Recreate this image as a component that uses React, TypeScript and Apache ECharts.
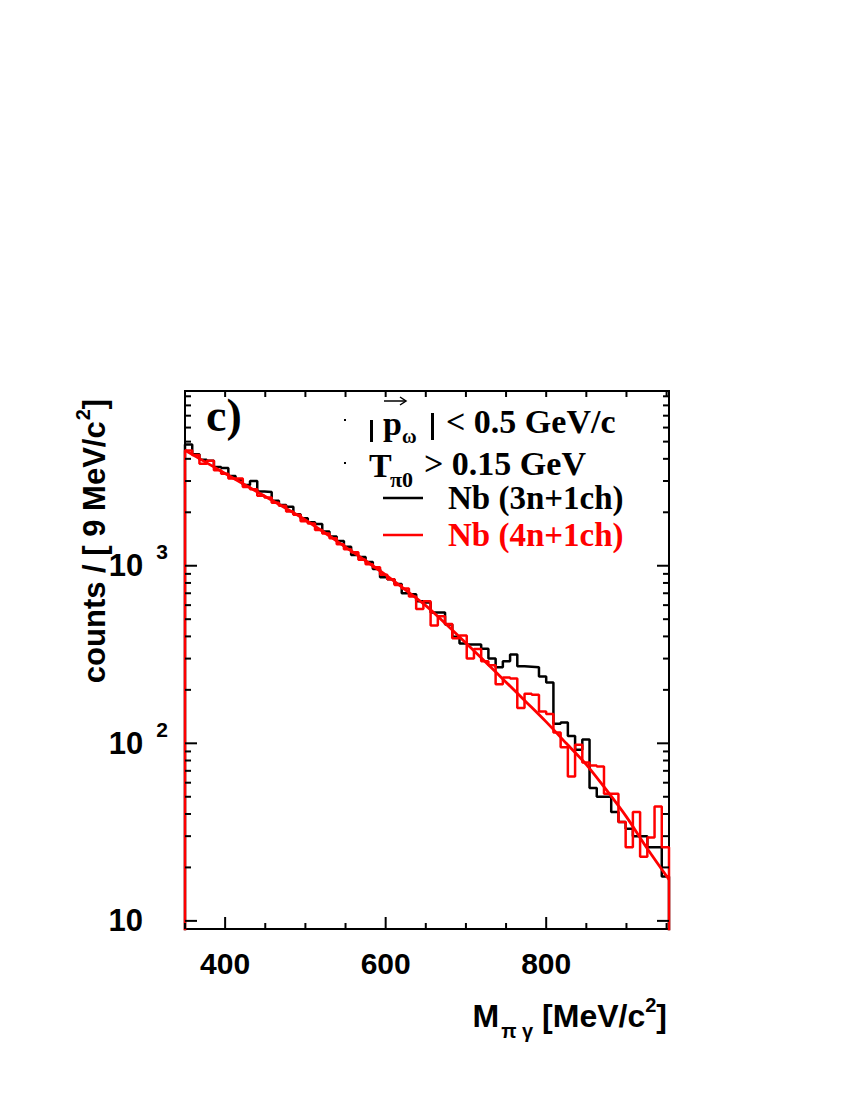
import React, { useEffect, useRef } from 'react';
import * as echarts from 'echarts';

// ---- data ----
const binStart = 350; // MeV/c^2, lower edge of first bin
const binWidth = 9; // MeV/c^2

// Nb (3n+1ch) histogram, counts per 9 MeV bin
const blackCounts = [
  4820, 4250, 3950, 3900, 3600, 3550, 3200, 3050, 2850, 3000,
  2620, 2600, 2320, 2200, 2150, 1950, 1850, 1760, 1720, 1560,
  1460, 1380, 1280, 1150, 1120, 1050, 960, 860, 840, 790,
  700, 690, 630, 621, 546, 546, 467, 398, 365, 360,
  360, 341, 300, 268, 290, 316, 272, 270, 268, 238,
  220, 129, 131, 110, 92, 105, 56, 50, 50, 41,
  36, 33, 30, 30, 26, 26, 17.8,
];

// Nb (4n+1ch) histogram
const redCounts = [
  4450, 4200, 3750, 3900, 3450, 3300, 3100, 3100, 2780, 2700,
  2480, 2420, 2260, 2180, 2020, 1940, 1780, 1730, 1590, 1520,
  1430, 1320, 1240, 1190, 1080, 1020, 980, 890, 840, 780,
  745, 670, 570, 630, 460, 520, 470, 390, 405, 300,
  340, 290, 275, 215, 235, 232, 158, 190, 188, 151,
  146, 115, 95, 65, 98, 78, 75, 74, 52, 52,
  36, 26, 41, 23, 29.5, 44, 26,
];

// smooth fit curve
const fitMass = [350, 375, 400, 425, 450, 475, 500, 525, 550, 575, 600, 625, 650, 675, 700, 725, 750, 775, 800, 825, 850, 875, 900, 925, 953];
const fitCounts = [4467, 3846, 3311, 2851, 2455, 2113, 1811, 1524, 1274, 1067, 887, 729, 596, 470, 367, 285, 221, 171, 132, 100, 75.9, 54.6, 38.5, 25.9, 17.1];

const xLabelValues = [400, 600, 800];
const xMajorTicks = [400, 600, 800];
const xMinorTicks = [350, 450, 500, 550, 650, 700, 750, 850, 900, 950];
const yMajorTicks = [10, 100, 1000];
const yMinorTicks = [20, 30, 40, 50, 60, 70, 80, 90, 200, 300, 400, 500, 600, 700, 800, 900, 2000, 3000, 4000, 5000, 6000, 7000, 8000, 9000];

const xMin = 350;
const xMax = 953;
const yMin = 9;
const yMax = 9640;

const seriesNames = ['Nb (3n+1ch)', 'Nb (4n+1ch)'];

function stepData(counts: number[]) {
  const pts: number[][] = [[binStart, 1]];
  counts.forEach((c, i) => {
    const lo = binStart + i * binWidth;
    pts.push([lo, c], [lo + binWidth, c]);
  });
  pts.push([binStart + counts.length * binWidth, 1]);
  return pts;
}

const SERIF = '"Liberation Serif", "Times New Roman", serif';
const SANS = '"Liberation Sans", Arial, Helvetica, sans-serif';

export default function App() {
  const ref = useRef<HTMLDivElement>(null);

  useEffect(() => {
    if (!ref.current) return;
    const chart = echarts.init(ref.current, undefined, { renderer: 'svg' });

    const tickData = [
      ...xMajorTicks.map((v) => [v, yMin, 0]),
      ...xMinorTicks.map((v) => [v, yMin, 1]),
      ...yMajorTicks.map((v) => [xMin, v, 2]),
      ...yMinorTicks.map((v) => [xMin, v, 3]),
    ];

    const serifText = (text: string, x: number, baseline: number, size: number, color = '#000') => ({
      type: 'text',
      x,
      y: baseline - 0.3375 * size,
      style: {
        text,
        fill: color,
        font: `bold ${size}px ${SERIF}`,
        align: 'left',
        verticalAlign: 'middle',
      },
    });

    const option: any = {
      animation: false,
      backgroundColor: '#fff',
      grid: {
        left: 185,
        top: 391,
        width: 484,
        height: 538,
        show: true,
        borderColor: '#000',
        borderWidth: 2,
        backgroundColor: 'transparent',
      },
      legend: {
        orient: 'vertical',
        left: 383,
        top: 479.5,
        padding: 0,
        itemGap: 0,
        itemWidth: 40,
        itemHeight: 2.5,
        icon: 'rect',
        selectedMode: false,
        textStyle: {
          fontFamily: SERIF,
          fontWeight: 'bold',
          fontSize: 33,
          lineHeight: 37,
          padding: [0, 0, 0, 20],
        },
        data: [
          { name: seriesNames[0], textStyle: { color: '#000' } },
          { name: seriesNames[1], textStyle: { color: '#ff0000' } },
        ],
      },
      xAxis: {
        type: 'value',
        min: xMin,
        max: xMax,
        interval: 50,
        axisLine: { show: false },
        axisTick: { show: false },
        splitLine: { show: false },
        axisLabel: {
          margin: 19,
          color: '#000',
          fontFamily: SANS,
          fontWeight: 'bold',
          fontSize: 30,
          lineHeight: 30,
          formatter: (v: number) => (xLabelValues.includes(Math.round(v)) && Math.abs(v - Math.round(v)) < 1e-6 ? String(Math.round(v)) : ''),
        },
      },
      yAxis: {
        type: 'log',
        logBase: 10,
        min: yMin,
        max: yMax,
        splitNumber: 3,
        axisLine: { show: false },
        axisTick: { show: false },
        splitLine: { show: false },
        axisLabel: {
          margin: 17,
          color: '#000',
          formatter: (v: number) => {
            const l = Math.log10(v);
            if (Math.abs(l - Math.round(l)) > 1e-6) return '';
            const e = Math.round(l);
            if (e === 1) return '{b|10}{sp| }';
            if (e >= 2 && e <= 3) return `{b|10}{s|${e}}`;
            return '';
          },
          rich: {
            b: { fontFamily: SANS, fontWeight: 'bold', fontSize: 31, lineHeight: 31, color: '#000' },
            s: { fontFamily: SANS, fontWeight: 'bold', fontSize: 21, lineHeight: 21, padding: [0, 0, 28, 13], color: '#000' },
            sp: { fontSize: 10, width: 25, lineHeight: 31 },
          },
        },
      },
      series: [
        {
          name: seriesNames[0],
          type: 'line',
          data: stepData(blackCounts),
          showSymbol: false,
          symbol: 'none',
          color: '#000',
          lineStyle: { color: '#000', width: 2.5 },
          clip: true,
          z: 2,
        },
        {
          name: seriesNames[1],
          type: 'line',
          data: stepData(redCounts),
          showSymbol: false,
          symbol: 'none',
          color: '#ff0000',
          lineStyle: { color: '#ff0000', width: 2.5 },
          clip: true,
          z: 3,
        },
        {
          name: 'fit',
          type: 'line',
          data: fitMass.map((m, i) => [m, fitCounts[i]]),
          showSymbol: false,
          symbol: 'none',
          smooth: 0.3,
          color: '#ff0000',
          lineStyle: { color: '#ff0000', width: 2.8 },
          clip: true,
          z: 4,
        },
        {
          name: 'ticks',
          type: 'custom',
          data: tickData,
          encode: { x: 0, y: 1 },
          z: 5,
          silent: true,
          renderItem: (params: any, api: any) => {
            const cs = params.coordSys;
            const kind = api.value(2);
            const p = api.coord([api.value(0), api.value(1)]);
            const st = { stroke: '#000', lineWidth: 2 };
            if (kind < 2) {
              const L = kind === 0 ? 12 : 6;
              const bottom = cs.y + cs.height;
              const top = cs.y;
              return {
                type: 'group',
                children: [
                  { type: 'line', shape: { x1: p[0], y1: bottom, x2: p[0], y2: bottom - L }, style: st },
                  { type: 'line', shape: { x1: p[0], y1: top, x2: p[0], y2: top + 6 }, style: st },
                ],
              };
            }
            const L = kind === 2 ? 12 : 6;
            const left = cs.x;
            const right = cs.x + cs.width;
            return {
              type: 'group',
              children: [
                { type: 'line', shape: { x1: left, y1: p[1], x2: left + L, y2: p[1] }, style: st },
                { type: 'line', shape: { x1: right, y1: p[1], x2: right - L, y2: p[1] }, style: st },
              ],
            };
          },
        },
      ],
      graphic: {
        elements: [
          serifText('c)', 206, 431, 46),
          { type: 'rect', shape: { x: 370, y: 420, width: 3, height: 22 }, style: { fill: '#000' } },
          serifText('p', 383, 435, 34),
          serifText('ω', 402, 443, 20),
          { type: 'line', shape: { x1: 384, y1: 401, x2: 406, y2: 401 }, style: { stroke: '#000', lineWidth: 1.5 } },
          { type: 'polyline', shape: { points: [[400, 397], [406, 401], [400, 405]] }, style: { stroke: '#000', lineWidth: 1.5, fill: 'none' } },
          { type: 'rect', shape: { x: 431, y: 413, width: 3, height: 27 }, style: { fill: '#000' } },
          serifText('< 0.5 GeV/c', 446, 433, 34),
          serifText('T', 369, 477, 34),
          serifText('π0', 390, 487, 22),
          serifText('> 0.15 GeV', 424, 475, 34),
          { type: 'rect', shape: { x: 344, y: 419, width: 2, height: 2 }, style: { fill: '#000' } },
          { type: 'rect', shape: { x: 344, y: 462, width: 2, height: 2 }, style: { fill: '#000' } },
          {
            type: 'text',
            x: 667,
            y: 1027 - 0.3465 * 32,
            style: {
              text: '{m|M}{sub|π γ}{m| [MeV/c}{sup|2}{m|]}',
              align: 'right',
              verticalAlign: 'middle',
              fill: '#000',
              rich: {
                m: { fontFamily: SANS, fontWeight: 'bold', fontSize: 32, lineHeight: 32, fill: '#000' },
                sub: { fontFamily: SANS, fontWeight: 'bold', fontSize: 20, lineHeight: 20, padding: [30, 0, 0, 2], fill: '#000' },
                sup: { fontFamily: SANS, fontWeight: 'bold', fontSize: 20, lineHeight: 20, padding: [0, 0, 21, 0], fill: '#000' },
              },
            },
          },
          {
            type: 'text',
            x: 94,
            y: 541,
            rotation: Math.PI / 2,
            style: {
              text: '{m|counts / [ 9 MeV/c}{sup|2}{m|]}',
              align: 'center',
              verticalAlign: 'middle',
              fill: '#000',
              rich: {
                m: { fontFamily: SANS, fontWeight: 'bold', fontSize: 31, lineHeight: 31, fill: '#000' },
                sup: { fontFamily: SANS, fontWeight: 'bold', fontSize: 20, lineHeight: 20, padding: [0, 0, 22, 1], fill: '#000' },
              },
            },
          },
        ],
      },
    };

    chart.setOption(option);
    return () => {
      chart.dispose();
    };
  }, []);

  return <div ref={ref} style={{ position: 'absolute', left: 0, top: 0, width: 850, height: 1100 }} />;
}
